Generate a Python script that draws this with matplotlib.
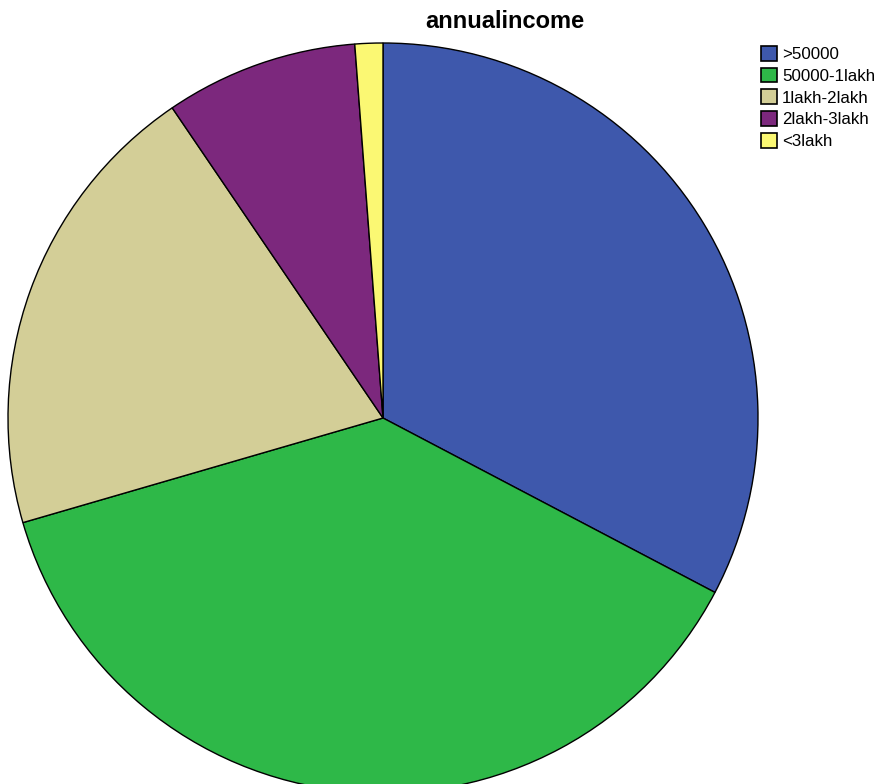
import matplotlib
matplotlib.use("Agg")
import matplotlib.pyplot as plt

# annual income groups, share of respondents (%)
labels = [">50000", "50000-1lakh", "1lakh-2lakh", "2lakh-3lakh", "<3lakh"]
shares = [32.7, 37.8, 20.0, 8.3, 1.2]
colors = ["#3E58AC", "#2EB848", "#D3CE97", "#7C287D", "#FBF873"]

plt.rcParams["font.family"] = ["Liberation Sans", "DejaVu Sans"]

W, H = 881, 784
cx, cy, r = 383, 418, 375

fig = plt.figure(figsize=(W / 100, H / 100), dpi=100)
ax = fig.add_axes([0, 0, 1, 1])
wedges, _ = ax.pie(shares, colors=colors, startangle=90, counterclock=False,
                   radius=1.0,
                   wedgeprops=dict(edgecolor="black", linewidth=1.0))
ax.set_aspect("auto")
ax.set_xlim(-cx / r, (W - cx) / r)
ax.set_ylim(-(H - cy) / r, cy / r)
ax.axis("off")

fig.text(505 / W, 1 - 22 / H, "annualincome", ha="center", va="center",
         fontsize=17, fontweight="bold")

leg = fig.legend(wedges, labels, loc="upper left",
                 bbox_to_anchor=(761 / W, 1 - 46 / H), frameon=False,
                 fontsize=12.2, handlelength=0.95, handleheight=0.95,
                 handletextpad=0.3, labelspacing=0.33, borderpad=0,
                 borderaxespad=0)
for h in leg.legend_handles:
    h.set_linewidth(1.2)

fig.savefig("out.png", dpi=100)
